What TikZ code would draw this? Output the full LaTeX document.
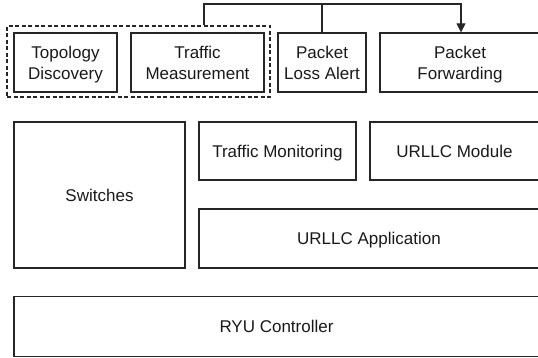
\documentclass[tikz,border=0pt]{standalone}
\usepackage{fontspec}
\setmainfont{Liberation Sans}
\usetikzlibrary{arrows.meta}
\begin{document}
\begin{tikzpicture}[x=1pt,y=1pt,
  box/.style={draw=black!85, line width=1.3pt, align=center, inner sep=0pt, text depth=0pt,
    font=\fontsize{17}{21}\selectfont, text=black!90},
  grpbox/.style={draw=black!85, line width=1.3pt, dash pattern=on 4pt off 2.5pt, inner sep=0pt},
  conn/.style={draw=black!85, line width=1.3pt}]
\useasboundingbox (0,0) rectangle (538,-358);
\node[grpbox, minimum width=263pt, minimum height=71pt] (grp) at (138.5,-61.5) {};
\node[box, minimum width=103pt, minimum height=59pt] (topo) at (65.5,-62.5) {Topology\\Discovery};
\node[box, minimum width=133pt, minimum height=59pt] (meas) at (197.5,-62.5) {Traffic\\Measurement};
\node[box, minimum width=88pt, minimum height=59pt] (loss) at (322,-62.5) {Packet\\Loss Alert};
\node[box, minimum width=160pt, minimum height=59pt] (fwd) at (460,-62.5) {Packet\\Forwarding};
\node[box, minimum width=171pt, minimum height=146pt] (sw) at (99.5,-195) {Switches};
\node[box, minimum width=157pt, minimum height=58pt] (mon) at (277.5,-151) {Traffic Monitoring};
\node[box, minimum width=169pt, minimum height=58pt] (mod) at (454.5,-151) {URLLC Module};
\node[box, minimum width=340pt, minimum height=59pt] (app) at (369,-238.5) {URLLC Application};
\node[box, minimum width=525pt, minimum height=60pt] (ryu) at (276.5,-326.5) {RYU Controller};
\coordinate (c1) at (204,-4);
\coordinate (c2) at (461,-4);
\draw[conn, -{Triangle[length=9pt,width=9pt]}] (grp.north -| c1) -- (c1) -- (c2) -- (fwd.north -| c2);
\draw[conn] (loss.north) -- (loss.north |- c1);
\end{tikzpicture}
\end{document}
